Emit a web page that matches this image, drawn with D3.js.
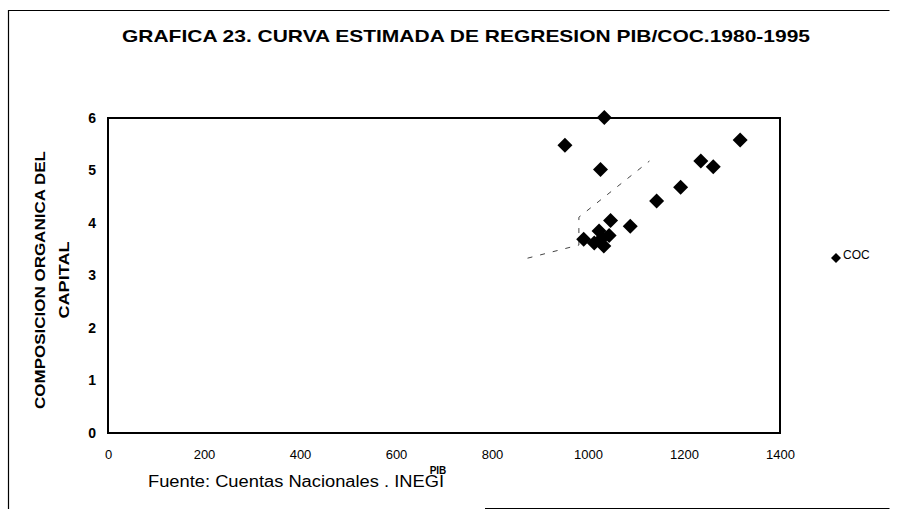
<!DOCTYPE html>
<html>
<head>
<meta charset="utf-8">
<script src="https://cdn.jsdelivr.net/npm/d3@7/dist/d3.min.js"></script>
<style>
  html, body { margin: 0; padding: 0; background: #fff; }
  svg { display: block; }
  text { font-family: "Liberation Sans", Arial, sans-serif; fill: #000; }
</style>
</head>
<body>
<svg id="chart" width="897" height="518"></svg>
<script>
// ---- Data ----
const pib = [1034, 952, 1026, 1317, 1235, 1261, 1193, 1143, 1047, 1088, 991, 1023, 1013, 1033, 1044, 1029];
const coc = [6.01, 5.48, 5.02, 5.58, 5.18, 5.07, 4.68, 4.42, 4.05, 3.94, 3.69, 3.85, 3.62, 3.56, 3.76, 3.71];
// estimated regression curve (dashed)
const curvaPib = [874, 981, 981, 1128];
const curvaCoc = [3.33, 3.58, 4.11, 5.18];
const xTicks = [0, 200, 400, 600, 800, 1000, 1200, 1400];
const yTicks = [0, 1, 2, 3, 4, 5, 6];
const title = "GRAFICA 23. CURVA ESTIMADA DE REGRESION PIB/COC.1980-1995";
const yTitle1 = "COMPOSICION ORGANICA DEL";
const yTitle2 = "CAPITAL";
const xTitle = "PIB";
const source = "Fuente: Cuentas Nacionales . INEGI";
const seriesName = "COC";

const svg = d3.select("#chart");
const plot = { left: 108, right: 780, top: 118, bottom: 433 };

const x = d3.scaleLinear().domain([0, 1400]).range([plot.left, plot.right]);
const y = d3.scaleLinear().domain([0, 6]).range([plot.bottom, plot.top]);

// outer chart frame
svg.append("path")
  .attr("d", `M8.5,509 L8.5,10.5 L889.5,10.5 M485,508.5 L889.5,508.5`)
  .attr("fill", "none").attr("stroke", "#000").attr("stroke-width", 1.2);

// title
svg.append("text")
  .attr("x", 122).attr("y", 42)
  .attr("font-size", 17).attr("font-weight", "bold")
  .attr("textLength", 688).attr("lengthAdjust", "spacingAndGlyphs")
  .text(title);

// plot frame
svg.append("rect")
  .attr("x", plot.left).attr("y", plot.top)
  .attr("width", plot.right - plot.left).attr("height", plot.bottom - plot.top)
  .attr("fill", "none").attr("stroke", "#000").attr("stroke-width", 2);

// axes (labels only; frame drawn above)
const xAxis = d3.axisBottom(x).tickValues(xTicks).tickSize(0).tickPadding(17).tickFormat(d3.format("d"));
const gx = svg.append("g").attr("transform", `translate(0,${plot.bottom})`).call(xAxis);
gx.select(".domain").remove();
gx.selectAll("text").attr("font-size", 13).attr("font-family", "Liberation Sans, Arial, sans-serif").attr("fill", "#000");

const yAxis = d3.axisLeft(y).tickValues(yTicks).tickSize(0).tickPadding(12).tickFormat(d3.format("d"));
const gy = svg.append("g").attr("transform", `translate(${plot.left},0)`).call(yAxis);
gy.select(".domain").remove();
gy.selectAll("text").attr("font-size", 14).attr("font-weight", "bold").attr("font-family", "Liberation Sans, Arial, sans-serif").attr("fill", "#000");

// y title
const yMid = 280;
svg.append("text")
  .attr("transform", `translate(45,${yMid}) rotate(-90)`)
  .attr("text-anchor", "middle").attr("font-size", 14).attr("font-weight", "bold")
  .attr("textLength", 258).attr("lengthAdjust", "spacingAndGlyphs")
  .text(yTitle1);
svg.append("text")
  .attr("transform", `translate(69,${yMid}) rotate(-90)`)
  .attr("text-anchor", "middle").attr("font-size", 14).attr("font-weight", "bold")
  .attr("textLength", 77).attr("lengthAdjust", "spacingAndGlyphs")
  .text(yTitle2);

// x title
svg.append("text")
  .attr("x", 438).attr("y", 474)
  .attr("text-anchor", "middle").attr("font-size", 10).attr("font-weight", "bold")
  .text(xTitle);

// source
svg.append("text")
  .attr("x", 148).attr("y", 487)
  .attr("font-size", 16)
  .attr("textLength", 296).attr("lengthAdjust", "spacingAndGlyphs")
  .text(source);

// estimated curve
const curva = curvaPib.map((p, i) => [p, curvaCoc[i]]);
svg.append("path")
  .datum(curva)
  .attr("d", d3.line().x(d => x(d[0])).y(d => y(d[1])))
  .attr("fill", "none").attr("stroke", "#444").attr("stroke-width", 1)
  .attr("stroke-dasharray", "5,8");

// diamonds
const diamond = (cx, cy, r) => `M${cx},${cy - r}L${cx + r},${cy}L${cx},${cy + r}L${cx - r},${cy}Z`;
const pts = pib.map((p, i) => [p, coc[i]]);
svg.append("g").selectAll("path").data(pts).join("path")
  .attr("d", d => diamond(x(d[0]), y(d[1]), 7.5))
  .attr("fill", "#000");

// legend
svg.append("path").attr("d", diamond(836, 258, 5)).attr("fill", "#000");
svg.append("text")
  .attr("x", 843).attr("y", 259)
  .attr("font-size", 12)
  .text(seriesName);
</script>
</body>
</html>
